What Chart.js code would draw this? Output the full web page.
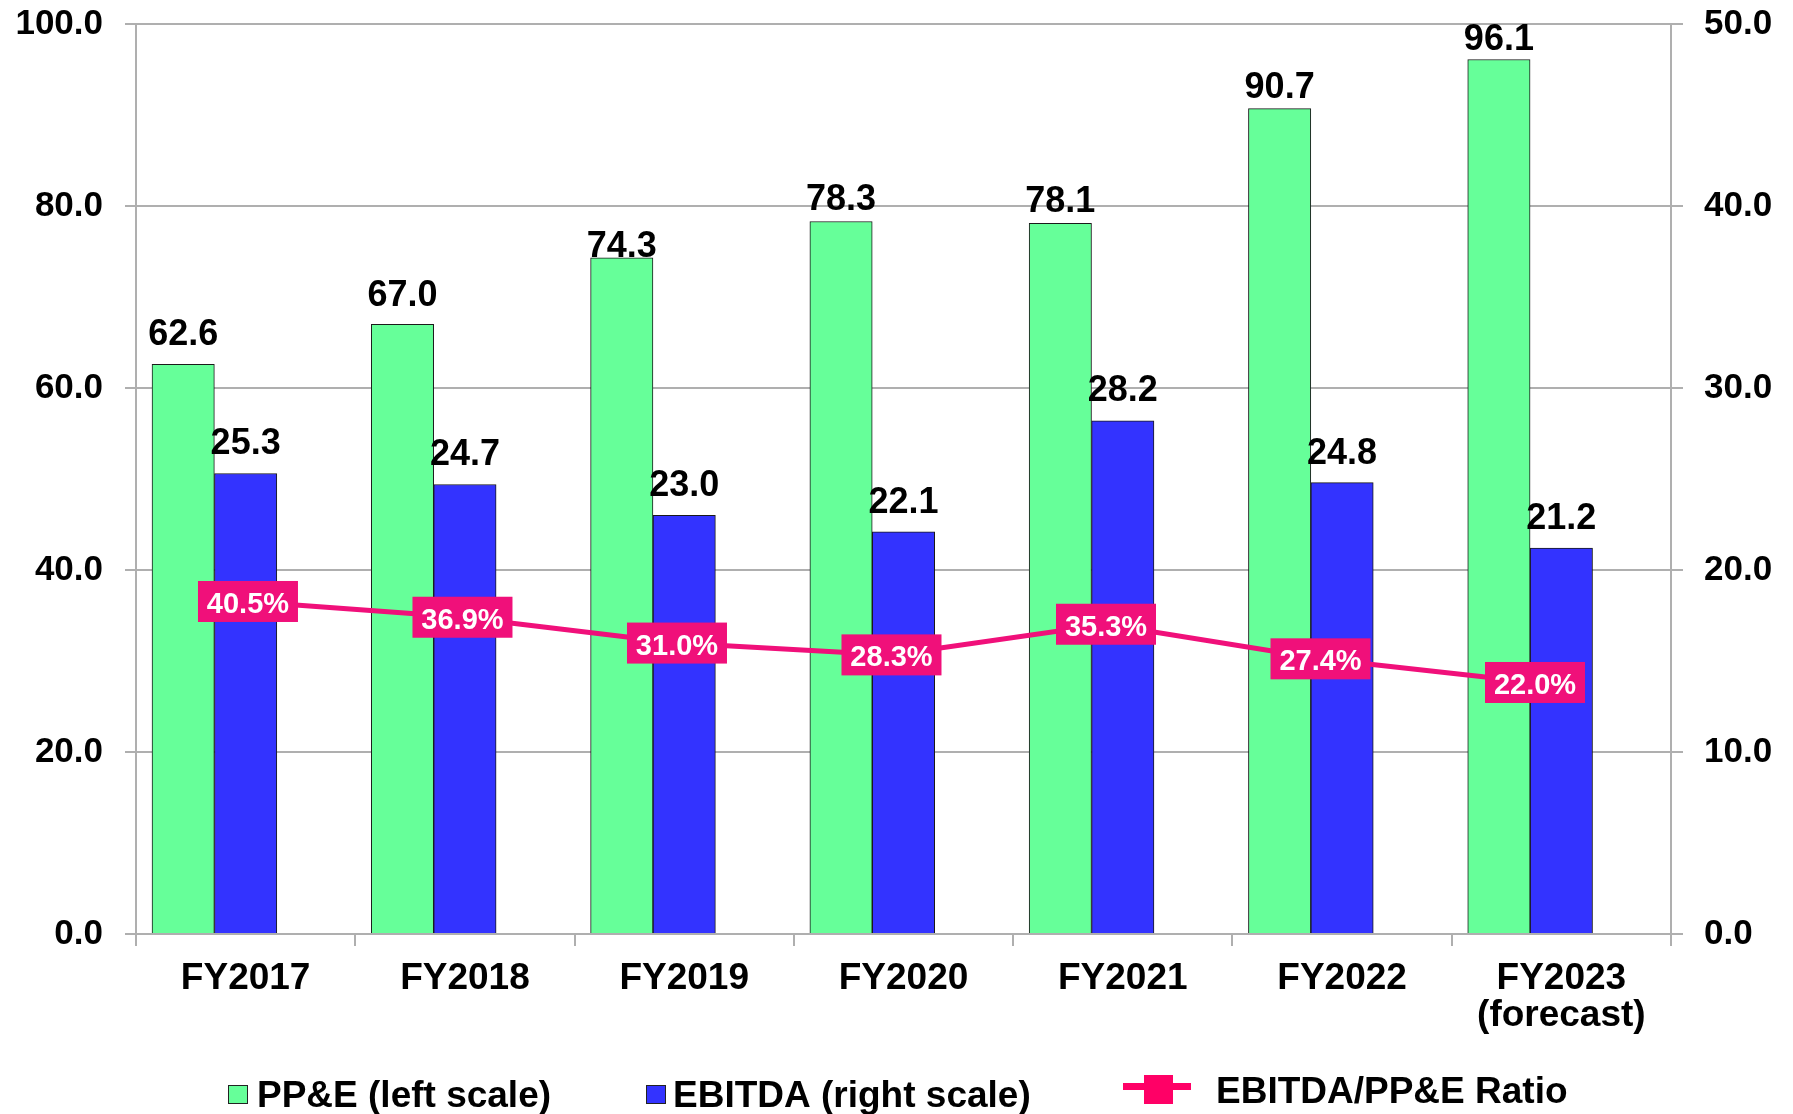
<!DOCTYPE html>
<html>
<head>
<meta charset="utf-8">
<script src="https://cdn.jsdelivr.net/npm/chart.js@4.4.1/dist/chart.umd.min.js"></script>
<style>
  html, body { margin: 0; padding: 0; background: #ffffff; }
  #wrap { width: 1793px; height: 1114px; }
</style>
</head>
<body>
<div id="wrap"><canvas id="chart" width="1793" height="1114"></canvas></div>
<script>
// Fiscal years on the category axis
const categories = ['FY2017', 'FY2018', 'FY2019', 'FY2020', 'FY2021', 'FY2022', ['FY2023', '(forecast)']];
// PP&E, left scale
const ppe = [62.6, 67.0, 74.3, 78.3, 78.1, 90.7, 96.1];
// EBITDA, right scale
const ebitda = [25.3, 24.7, 23.0, 22.1, 28.2, 24.8, 21.2];
// EBITDA / PP&E ratio, percent
const ratio = [40.5, 36.9, 31.0, 28.3, 35.3, 27.4, 22.0];

const FONT = "'Liberation Sans', Arial, Helvetica, sans-serif";
const GRID = '#AFAFAF';
const GREEN = '#66FF99';
const BLUE = '#3333FF';
const PINK = '#F0107A';
const PINK_LEGEND = '#FF0066';
const BAR_W = 62.35;

// distance (px) between a bar top and the baseline of its value label
const ppeLabelLift = [19, 18, 1, 11, 11, 11, 9];
const ebitdaLabelLift = [20, 19, 19, 19, 20, 19, 19];

const valueLabels = {
  id: 'valueLabels',
  afterDatasetsDraw(chart) {
    const ctx = chart.ctx;
    ctx.save();
    ctx.textAlign = 'center';
    ctx.textBaseline = 'alphabetic';
    ctx.font = `bold 36px ${FONT}`;
    ctx.fillStyle = '#000000';
    [[0, ppe, ppeLabelLift], [1, ebitda, ebitdaLabelLift]].forEach(([di, values, lift]) => {
      chart.getDatasetMeta(di).data.forEach((bar, i) => {
        ctx.fillText(values[i].toFixed(1), bar.x, bar.y - lift[i]);
      });
    });
    // ratio tags sitting on the line points
    ctx.font = `bold 29px ${FONT}`;
    chart.getDatasetMeta(2).data.forEach((pt, i) => {
      ctx.fillStyle = PINK;
      ctx.fillRect(pt.x - 50, pt.y - 20.5, 100, 41);
      ctx.fillStyle = '#FFFFFF';
      ctx.fillText(ratio[i].toFixed(1) + '%', pt.x, pt.y + 11.5);
    });
    ctx.restore();
  }
};

const bottomLegend = {
  id: 'bottomLegend',
  afterDraw(chart) {
    const ctx = chart.ctx;
    ctx.save();
    ctx.font = `bold 37px ${FONT}`;
    ctx.textAlign = 'left';
    ctx.textBaseline = 'alphabetic';
    const ds = chart.data.datasets;
    // bar swatches
    [[0, 228, 257], [1, 646, 673]].forEach(([di, bx, tx]) => {
      ctx.fillStyle = ds[di].backgroundColor;
      ctx.fillRect(bx, 1085, 20, 19);
      ctx.strokeStyle = '#222222';
      ctx.lineWidth = 1;
      ctx.strokeRect(bx + 0.5, 1085.5, 19, 18);
      ctx.fillStyle = '#000000';
      ctx.fillText(ds[di].label, tx, 1107);
    });
    // line + square marker
    ctx.fillStyle = PINK_LEGEND;
    ctx.fillRect(1123, 1083, 68, 7);
    ctx.fillRect(1144, 1075, 29, 29);
    ctx.fillStyle = '#000000';
    ctx.fillText(ds[2].label, 1216, 1103);
    ctx.restore();
  }
};

// fixed axis widths; the tick labels are allowed to overhang the plot edges
function fitVertical(width) {
  return (scale) => {
    scale.width = width;
    scale.paddingTop = 0;
    scale.paddingBottom = 0;
  };
}

new Chart(document.getElementById('chart'), {
  type: 'bar',
  data: {
    labels: categories,
    datasets: [
      {
        // PP&E bars sit one bar-width left of each category centre
        label: 'PP&E (left scale)',
        data: ppe.map((v, i) => ({ x: i, y: v })),
        xAxisID: 'xg',
        yAxisID: 'y',
        backgroundColor: GREEN,
        borderColor: '#1a1a1a',
        borderWidth: 1,
        barThickness: BAR_W,
        grouped: false,
        order: 1
      },
      {
        label: 'EBITDA (right scale)',
        data: ebitda,
        xAxisID: 'x',
        yAxisID: 'y1',
        backgroundColor: BLUE,
        borderColor: '#1a1a1a',
        borderWidth: 1,
        barThickness: BAR_W,
        grouped: false,
        order: 1
      },
      {
        type: 'line',
        label: 'EBITDA/PP&E Ratio',
        data: ratio.map((v, i) => ({ x: i, y: v })),
        xAxisID: 'xr',
        yAxisID: 'yr',
        borderColor: PINK,
        backgroundColor: PINK,
        borderWidth: 5,
        pointStyle: 'rect',
        pointRadius: 8,
        tension: 0,
        order: 0
      }
    ]
  },
  options: {
    responsive: false,
    animation: false,
    devicePixelRatio: 1,
    layout: { padding: { top: 24, left: 0, right: 0, bottom: 0 } },
    plugins: {
      legend: { display: false },
      tooltip: { enabled: false },
      title: { display: false }
    },
    scales: {
      x: {
        type: 'category',
        offset: true,
        grid: { drawOnChartArea: false, drawTicks: true, tickLength: 12, color: GRID, lineWidth: 2, offset: true },
        border: { color: GRID, width: 2 },
        ticks: { color: '#000000', font: { family: FONT, size: 37, weight: 'bold', lineHeight: 1.0 }, padding: 14, maxRotation: 0, autoSkip: false },
        afterFit(scale) { scale.height = 180; }
      },
      xg: {
        type: 'linear',
        display: false,
        offset: false,
        min: -0.2152,
        max: 6.7848
      },
      xr: {
        type: 'linear',
        display: false,
        offset: false,
        min: -0.522,
        max: 6.634
      },
      y: {
        position: 'left',
        min: 0,
        max: 100,
        ticks: {
          stepSize: 20,
          color: '#000000',
          padding: 22,
          font: { family: FONT, size: 35, weight: 'bold' },
          callback: (v) => Number(v).toFixed(1)
        },
        grid: { color: GRID, lineWidth: 2, tickLength: 11, drawTicks: true },
        border: { color: GRID, width: 2 },
        afterFit: fitVertical(136)
      },
      y1: {
        position: 'right',
        min: 0,
        max: 50,
        ticks: {
          stepSize: 10,
          color: '#000000',
          padding: 21,
          font: { family: FONT, size: 35, weight: 'bold' },
          callback: (v) => Number(v).toFixed(1)
        },
        grid: { drawOnChartArea: false, color: GRID, lineWidth: 2, tickLength: 12, drawTicks: true },
        border: { color: GRID, width: 2 },
        afterFit: fitVertical(122)
      },
      yr: {
        type: 'linear',
        display: false,
        min: -35.45,
        max: 172.4
      }
    }
  },
  plugins: [valueLabels, bottomLegend]
});
</script>
</body>
</html>
